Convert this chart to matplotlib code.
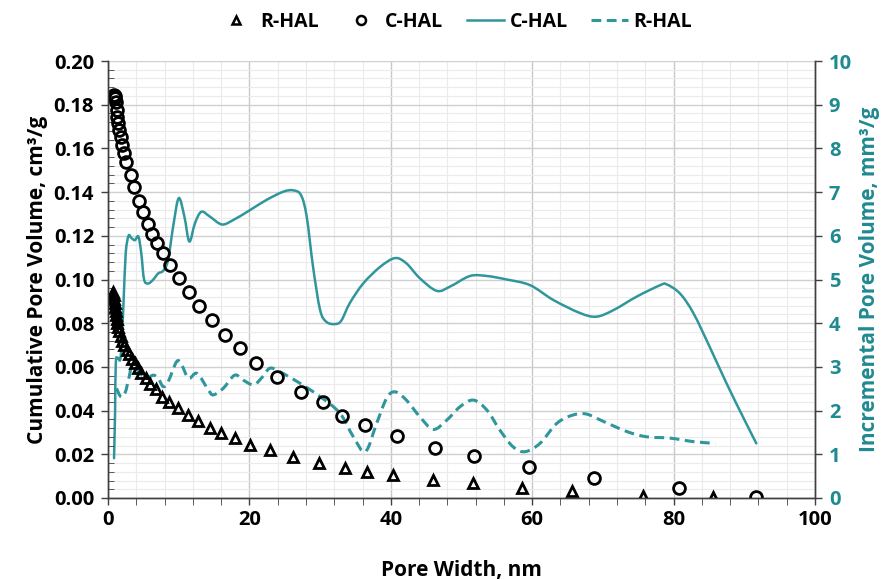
import numpy as np
import matplotlib
matplotlib.use('agg')
import matplotlib.pyplot as plt
from matplotlib.ticker import MultipleLocator, FormatStrFormatter
from matplotlib.path import Path
from matplotlib.patches import PathPatch
from matplotlib.lines import Line2D

plt.rcParams['font.family'] = ['Open Sans', 'DejaVu Sans']
plt.rcParams['font.weight'] = 'bold'

teal = '#2f969b'
teal_text = '#1f8a90'

# cumulative pore volume, C-HAL (circles)
c_x = [0.85, 0.92, 0.99, 1.09, 1.23, 1.32, 1.46, 1.60, 1.80, 2.02, 2.26, 2.59, 3.21, 3.68,
       4.38, 4.91, 5.70, 6.18, 6.89, 7.74, 8.77, 10.04, 11.50, 12.87, 14.75, 16.55, 18.67,
       20.93, 23.86, 27.26, 30.37, 33.06, 36.35, 40.83, 46.25, 51.77, 59.59, 68.74, 80.81, 91.65]
c_y = [0.1845, 0.1840, 0.1831, 0.1814, 0.1776, 0.1745, 0.1715, 0.1684, 0.1654, 0.1616, 0.1578,
       0.1536, 0.1478, 0.1422, 0.1361, 0.1310, 0.1254, 0.1208, 0.1168, 0.1120, 0.1066, 0.1006,
       0.0941, 0.0879, 0.0815, 0.0746, 0.0685, 0.0619, 0.0555, 0.0487, 0.0438, 0.0375, 0.0332,
       0.0284, 0.0229, 0.0191, 0.0141, 0.0090, 0.0044, 0.0005]

# cumulative pore volume, R-HAL (triangles)
r_x = [0.75, 0.82, 0.88, 0.93, 0.99, 1.06, 1.13, 1.22, 1.32, 1.41, 1.56, 1.77, 1.98, 2.26,
       2.62, 2.97, 3.32, 3.75, 4.17, 4.71, 5.33, 5.98, 6.75, 7.68, 8.63, 9.94, 11.36, 12.77,
       14.43, 15.98, 17.96, 20.13, 22.91, 26.21, 29.89, 33.45, 36.59, 40.35, 46.01, 51.67,
       58.51, 65.6, 75.71, 85.6]
r_y = [0.0944, 0.0929, 0.0911, 0.0893, 0.0874, 0.0856, 0.0838, 0.0819, 0.0801, 0.0783, 0.0764,
       0.0741, 0.0719, 0.0698, 0.0677, 0.0659, 0.0638, 0.0618, 0.0595, 0.0572, 0.0547, 0.0522,
       0.0497, 0.0464, 0.0441, 0.0413, 0.0380, 0.0352, 0.0321, 0.0296, 0.0273, 0.0243, 0.0220,
       0.0189, 0.0162, 0.0136, 0.0120, 0.0105, 0.0082, 0.0067, 0.0044, 0.0034, 0.0011, 0.0003]

# incremental pore volume, C-HAL (solid line)
ci_x = [0.85, 1.0, 1.1, 1.4, 1.8, 2.2, 2.5, 2.9, 3.3, 3.8, 4.3, 4.7, 5.1, 5.7, 6.4, 7.1, 7.8,
        8.5, 9.2, 10.0, 10.8, 11.5, 12.3, 13.2, 14.4, 16.1, 17.7, 20.1, 22.4, 24.8, 26.2, 27.3,
        28.1, 29.0, 30.0, 30.9, 32.1, 33.0, 34.2, 36.1, 38.5, 40.6, 42.2, 44.1, 46.5, 48.4,
        51.2, 53.6, 56.4, 59.7, 63.0, 66.8, 69.1, 71.5, 74.8, 78.1, 79.0, 80.9, 82.8, 85.1,
        87.5, 89.8, 91.7]
ci_y = [0.91, 2.0, 3.1, 3.2, 3.25, 4.5, 5.6, 6.0, 5.95, 5.9, 5.98, 5.6, 5.0, 4.91, 5.0, 5.14,
        5.2, 5.45, 6.2, 6.86, 6.44, 5.87, 6.29, 6.55, 6.44, 6.26, 6.36, 6.59, 6.82, 7.01, 7.04,
        6.93, 6.44, 5.29, 4.30, 4.03, 3.98, 4.06, 4.46, 4.91, 5.29, 5.49, 5.37, 5.03, 4.74,
        4.84, 5.08, 5.08, 5.00, 4.87, 4.53, 4.23, 4.15, 4.30, 4.61, 4.87, 4.89, 4.68, 4.23,
        3.46, 2.62, 1.86, 1.25]

# incremental pore volume, R-HAL (dashed line)
ri_x = [1.2, 1.8, 2.4, 3.0, 3.3, 4.1, 4.8, 5.5, 6.4, 7.1, 7.8, 8.5, 9.7, 10.4, 11.4, 12.6,
        14.2, 14.9, 16.3, 17.9, 19.1, 20.6, 21.9, 22.9, 24.3, 27.2, 30.0, 32.8, 34.7, 36.4,
        38.0, 39.4, 40.6, 42.2, 44.1, 46.0, 47.9, 49.8, 51.7, 53.6, 55.4, 57.3, 59.0, 61.1,
        63.5, 65.8, 67.7, 70.1, 73.4, 76.2, 79.5, 82.8, 85.9]
ri_y = [2.51, 2.32, 2.40, 2.78, 2.97, 2.93, 2.81, 2.74, 2.81, 2.74, 2.55, 2.66, 3.12, 3.05,
        2.74, 2.85, 2.47, 2.36, 2.51, 2.81, 2.70, 2.59, 2.78, 2.97, 2.89, 2.62, 2.32, 1.94,
        1.40, 1.06, 1.71, 2.28, 2.43, 2.24, 1.86, 1.57, 1.78, 2.09, 2.24, 2.01, 1.56, 1.17,
        1.06, 1.25, 1.71, 1.90, 1.92, 1.75, 1.52, 1.40, 1.37, 1.29, 1.25]


def smooth_path(xs, ys):
    # Excel-style smoothed line: Catmull-Rom segments drawn as cubic Bezier curves
    x = np.asarray(xs, float)
    y = np.asarray(ys, float)
    px = np.concatenate([[x[0]], x, [x[-1]]])
    py = np.concatenate([[y[0]], y, [y[-1]]])
    verts = [(x[0], y[0])]
    codes = [Path.MOVETO]
    t = 1 / 6.0
    for i in range(1, len(px) - 2):
        c1 = (px[i] + (px[i + 1] - px[i - 1]) * t, py[i] + (py[i + 1] - py[i - 1]) * t)
        c2 = (px[i + 1] - (px[i + 2] - px[i]) * t, py[i + 1] - (py[i + 2] - py[i]) * t)
        verts += [c1, c2, (px[i + 1], py[i + 1])]
        codes += [Path.CURVE4] * 3
    return Path(verts, codes)


fig = plt.figure(figsize=(8.87, 5.8), dpi=100)
ax = fig.add_axes([0.1218, 0.1414, 0.797, 0.7534])
ax2 = ax.twinx()

ax.set_xlim(0, 100)
ax2.set_xlim(0, 100)
ax.set_ylim(0, 0.20)
ax2.set_ylim(0, 10)

ax.xaxis.set_major_locator(MultipleLocator(20))
ax.xaxis.set_minor_locator(MultipleLocator(4))
ax.yaxis.set_major_locator(MultipleLocator(0.02))
ax.yaxis.set_minor_locator(MultipleLocator(0.004))
ax.yaxis.set_major_formatter(FormatStrFormatter('%.2f'))
ax2.yaxis.set_major_locator(MultipleLocator(1))

# grid drawn on the back axes
for v in np.arange(0, 101, 4):
    ax2.axvline(v, color='#c8c8c8' if v % 20 == 0 else '#ebebeb',
                lw=1.0 if v % 20 == 0 else 0.8, zorder=0)
for v in np.arange(0, 10.01, 0.2):
    major = abs(v - round(v)) < 1e-6
    ax2.axhline(v, color='#d0d0d0' if major else '#ebebeb',
                lw=1.0 if major else 0.8, zorder=0)

# smoothed lines on right axis
ax2.add_patch(PathPatch(smooth_path(ci_x, ci_y), fill=False, edgecolor=teal, lw=1.8,
                        capstyle='round', zorder=2))
ax2.add_patch(PathPatch(smooth_path(ri_x, ri_y), fill=False, edgecolor=teal, lw=2.2,
                        ls=(0, (3.2, 1.8)), zorder=2))

# markers on left axis, above the right axes
ax.set_zorder(ax2.get_zorder() + 1)
ax.patch.set_visible(False)
p1, = ax.plot(r_x, r_y, ls='none', marker='^', ms=7.5, mfc='none', mec='black', mew=2.0)
p2, = ax.plot(c_x, c_y, ls='none', marker='o', ms=8.5, mfc='none', mec='black', mew=2.0)

for a in (ax, ax2):
    a.spines['top'].set_visible(False)
    for s in ('left', 'right', 'bottom'):
        a.spines[s].set_color('#404040')
        a.spines[s].set_linewidth(1.0)

ax.tick_params(axis='both', which='major', labelsize=14.5, length=5, width=1, color='#404040')
ax.tick_params(axis='y', which='minor', direction='in', length=4, color='#404040')
ax.tick_params(axis='x', which='minor', direction='out', length=5, color='#404040')
ax.tick_params(axis='y', which='major', pad=5)
ax.tick_params(axis='x', which='major', pad=4)
ax2.tick_params(axis='y', which='major', labelsize=14.5, length=5, width=1, color='#404040',
                labelcolor=teal_text, pad=5)
for lab in ax.get_xticklabels() + ax.get_yticklabels() + ax2.get_yticklabels():
    lab.set_fontweight('bold')

ax.set_xlabel('Pore Width, nm', fontsize=15, fontweight='bold', labelpad=21)
ax.set_ylabel('Cumulative Pore Volume, cm³/g', fontsize=15, fontweight='bold', labelpad=4)
ax2.set_ylabel('Incremental Pore Volume, mm³/g', fontsize=15, fontweight='bold',
               color=teal_text, labelpad=5)

h1 = Line2D([], [], ls='none', marker='^', ms=5.5, mfc='none', mec='black', mew=1.8)
h2 = Line2D([], [], ls='none', marker='o', ms=6.5, mfc='none', mec='black', mew=1.8)
h3 = Line2D([], [], color=teal, lw=1.8)
h4 = Line2D([], [], color=teal, lw=2.2, ls=(0, (3.2, 1.8)))
fig.legend(handles=[h1, h2, h3, h4], labels=['R-HAL', 'C-HAL', 'C-HAL', 'R-HAL'],
           loc='center', bbox_to_anchor=(0.513, 0.962), ncol=4, frameon=False,
           prop={'size': 14, 'weight': 'bold'}, handlelength=1.9, columnspacing=1.2,
           handletextpad=0.3)

fig.savefig('out.png', dpi=100)
